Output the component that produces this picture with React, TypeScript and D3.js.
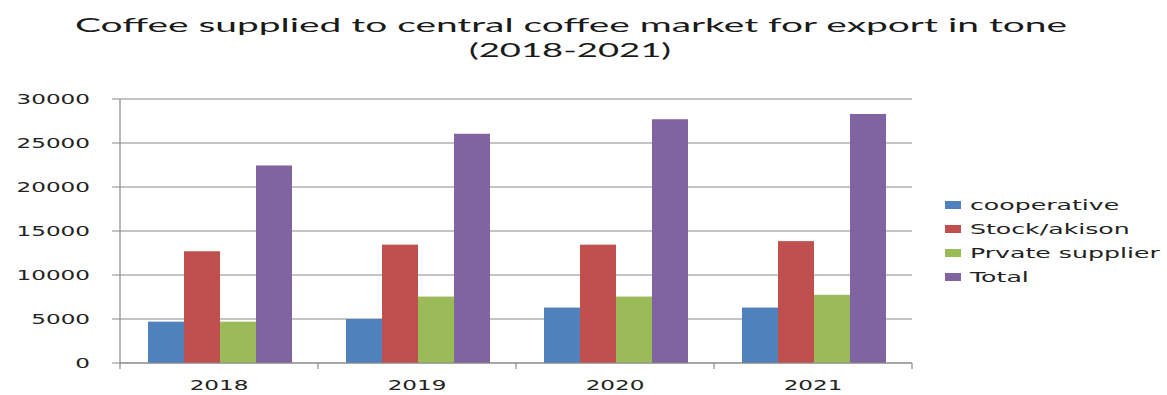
import React from "react";
import * as d3 from "d3";

const categories = ["2018", "2019", "2020", "2021"];
const seriesNames = ["cooperative", "Stock/akison", "Prvate supplier", "Total"];
const cooperative = [4700, 5000, 6300, 6300];
const stockAkison = [12700, 13450, 13450, 13850];
const privateSupplier = [4700, 7550, 7550, 7750];
const total = [22450, 26050, 27700, 28300];
const yTicks = [0, 5000, 10000, 15000, 20000, 25000, 30000];
const titleLine1 = "Coffee supplied to central coffee market  for export in tone";
const titleLine2 = "(2018-2021)";

const seriesValues = [cooperative, stockAkison, privateSupplier, total];
const colors = ["#4F81BD", "#C0504D", "#9BBB59", "#8064A2"];

const W = 1167;
const H = 395;
const plot = { left: 120, right: 912, top: 99, bottom: 363 };
const axisFont = "'DejaVu Sans', Verdana, sans-serif";
const stretch = 1.65;

export default function App() {
  const x = d3.scaleBand<string>().domain(categories).range([plot.left, plot.right]).padding(0);
  const bw = x.bandwidth();
  const inner = d3
    .scaleBand<string>()
    .domain(seriesNames)
    .range([bw * (28 / 198), bw * (172 / 198)])
    .padding(0);
  const y = d3.scaleLinear().domain([0, 30000]).range([plot.bottom, plot.top]);

  const boundaries = [...categories.map((c) => x(c) as number), plot.right];

  return (
    <svg
      width={W}
      height={H}
      style={{ position: "absolute", left: 0, top: 0, background: "#fff" }}
    >
      <rect x={0} y={0} width={W} height={H} fill="#fff" />
      {/* Title */}
      <text
        x={571}
        y={32}
        textAnchor="middle"
        fontFamily="Lato, 'Open Sans', sans-serif"
        fontSize={20}
        fill="#1a1a1a"
        textLength={992}
        lengthAdjust="spacingAndGlyphs"
      >
        {titleLine1}
      </text>
      <text
        x={570}
        y={57}
        textAnchor="middle"
        fontFamily="Lato, 'Open Sans', sans-serif"
        fontSize={20}
        fill="#1a1a1a"
        textLength={202}
        lengthAdjust="spacingAndGlyphs"
      >
        {titleLine2}
      </text>

      {/* Gridlines and y ticks */}
      {yTicks.map((t) => (
        <g key={t}>
          <line
            x1={plot.left - 8}
            x2={plot.right}
            y1={y(t)}
            y2={y(t)}
            stroke="#8a8a8a"
            strokeWidth={1.2}
          />
          <g transform={`translate(${plot.left - 30},${y(t) + 5}) scale(${stretch},1)`}>
            <text
              x={0}
              y={0}
              textAnchor="end"
              fontFamily={axisFont}
              fontSize={14}
              fill="#222"
            >
              {t}
            </text>
          </g>
        </g>
      ))}

      {/* Bars */}
      {categories.map((c, ci) => (
        <g key={c} transform={`translate(${x(c)},0)`}>
          {seriesNames.map((s, si) => {
            const v = seriesValues[si][ci];
            return (
              <rect
                key={s}
                x={inner(s)}
                y={y(v)}
                width={inner.bandwidth()}
                height={y(0) - y(v)}
                fill={colors[si]}
              />
            );
          })}
        </g>
      ))}

      {/* Axes */}
      <line x1={plot.left} x2={plot.left} y1={plot.top} y2={plot.bottom} stroke="#8a8a8a" strokeWidth={1.2} />
      <line x1={plot.left} x2={plot.right} y1={plot.bottom} y2={plot.bottom} stroke="#8a8a8a" strokeWidth={1.2} />
      {boundaries.map((b, i) => (
        <line key={i} x1={b} x2={b} y1={plot.bottom} y2={plot.bottom + 6} stroke="#8a8a8a" strokeWidth={1.2} />
      ))}
      {categories.map((c) => (
        <g key={c} transform={`translate(${(x(c) as number) + bw / 2},${390}) scale(${stretch},1)`}>
          <text x={0} y={0} textAnchor="middle" fontFamily={axisFont} fontSize={14} fill="#222">
            {c}
          </text>
        </g>
      ))}

      {/* Legend */}
      {seriesNames.map((s, i) => {
        const cy = 205 + i * 24;
        return (
          <g key={s}>
            <rect x={945} y={cy - 4} width={16} height={8} fill={colors[i]} />
            <g transform={`translate(970,${cy + 5}) scale(1.8,1)`}>
              <text x={0} y={0} fontFamily={axisFont} fontSize={14} fill="#222">
                {s}
              </text>
            </g>
          </g>
        );
      })}
    </svg>
  );
}
